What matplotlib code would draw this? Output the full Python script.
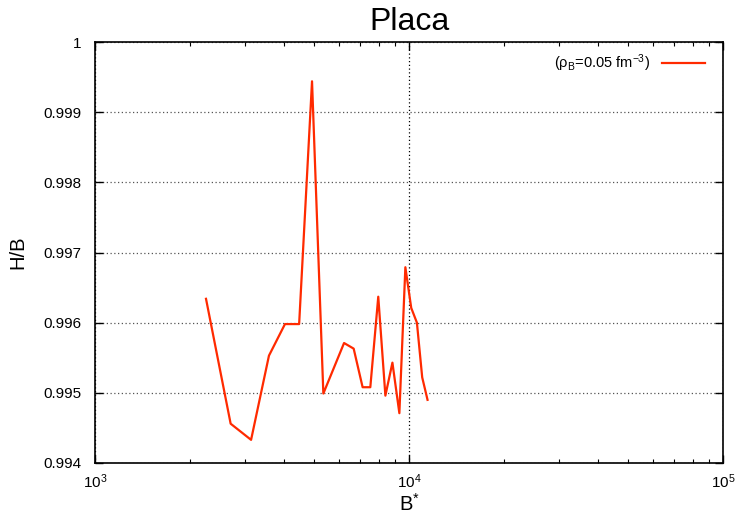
import matplotlib.pyplot as plt
import numpy as np
from matplotlib.ticker import LogLocator, FixedLocator

plt.rcParams['font.family'] = ['Liberation Sans', 'DejaVu Sans']
plt.rcParams['mathtext.fontset'] = 'custom'
plt.rcParams['mathtext.rm'] = 'Liberation Sans'
plt.rcParams['mathtext.it'] = 'Liberation Sans'
plt.rcParams['axes.unicode_minus'] = False

# data
b_star = [2257, 2704, 3141, 3581, 4027, 4468, 4911, 5336, 6211, 6665, 7117,
          7530, 7982, 8410, 8855, 9318, 9737, 10165, 10597, 11017, 11456]
h_over_b = [0.99634, 0.99456, 0.99433, 0.99553, 0.99598, 0.99598, 0.99944,
            0.99499, 0.99571, 0.99563, 0.99508, 0.99508, 0.99637, 0.99496,
            0.99543, 0.99471, 0.99679, 0.99621, 0.99600, 0.99522, 0.99490]
y_ticks = [0.994, 0.995, 0.996, 0.997, 0.998, 0.999, 1.0]
y_tick_labels = ["0.994", "0.995", "0.996", "0.997", "0.998", "0.999", "1"]
series_label = r"($\mathregular{\rho_B}$=0.05 fm$^{\mathregular{-3}}$)"

fig = plt.figure(figsize=(7.36, 5.17), dpi=100)
ax = fig.add_axes([95/736, 54/517, 628/736, 421/517])

ax.plot(b_star, h_over_b, color='#ff2a00', lw=1.6, label=series_label)

ax.set_xscale('log')
ax.set_xlim(1e3, 1e5)
ax.set_ylim(0.994, 1.0)
ax.xaxis.set_major_locator(LogLocator(base=10, numticks=5))
ax.xaxis.set_minor_locator(LogLocator(base=10, subs=np.arange(2, 10), numticks=20))
ax.yaxis.set_major_locator(FixedLocator(y_ticks))
ax.set_yticklabels(y_tick_labels)

ax.tick_params(which='both', direction='in', top=True, right=True, labelsize=11)
ax.tick_params(axis='y', pad=10)
ax.tick_params(axis='x', pad=7)
ax.tick_params(which='major', length=6, width=1)
ax.tick_params(which='minor', length=3, width=0.8)
for s in ax.spines.values():
    s.set_linewidth(1.2)

ax.grid(True, which='major', axis='y', linestyle=(0, (1, 2)), color='#555555', lw=0.9)
ax.grid(True, which='major', axis='x', linestyle=(0, (1, 2)), color='black', lw=0.9)

ax.set_title("Placa", fontsize=23, pad=9)
ax.set_ylabel("H/B", fontsize=14.5)
ax.yaxis.set_label_coords(-0.108, 0.5)
ax.set_xlabel(r"B$^{*}$", fontsize=14.5, labelpad=1)

ax.legend(loc='upper right', frameon=False, markerfirst=False, fontsize=10.5,
          handlelength=3.0, bbox_to_anchor=(0.988, 1.0), borderaxespad=0.3)

fig.savefig("out.png", dpi=100)
